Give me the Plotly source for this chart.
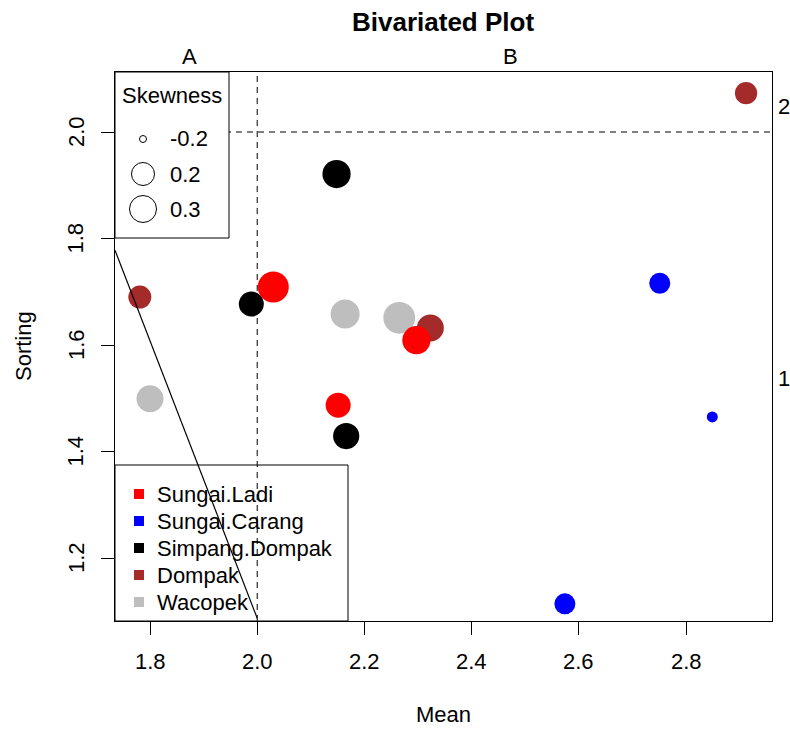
import plotly.graph_objects as go

# ---------------- data ----------------
sites = ["Sungai.Ladi", "Sungai.Carang", "Simpang.Dompak", "Dompak", "Wacopek"]
site_colors = ["#FF0000", "#0000FF", "#000000", "#A52A2A", "#BEBEBE"]

ladi_mean = [2.030, 2.297, 2.151]
ladi_sort = [1.709, 1.609, 1.487]
ladi_skew = [0.40, 0.33, 0.25]

carang_mean = [2.751, 2.849, 2.574]
carang_sort = [1.716, 1.465, 1.114]
carang_skew = [0.15, -0.10, 0.15]

simpang_mean = [2.148, 1.989, 2.166]
simpang_sort = [1.921, 1.677, 1.429]
simpang_skew = [0.33, 0.25, 0.28]

dompak_mean = [2.912, 1.781, 2.323]
dompak_sort = [2.073, 1.690, 1.632]
dompak_skew = [0.18, 0.20, 0.30]

wacopek_mean = [1.800, 2.164, 2.265]
wacopek_sort = [1.499, 1.658, 1.651]
wacopek_skew = [0.30, 0.35, 0.42]

skew_legend_vals = [-0.2, 0.2, 0.3]
x_ticks = [1.8, 2.0, 2.2, 2.4, 2.6, 2.8]
y_ticks = [1.2, 1.4, 1.6, 1.8, 2.0]

# ---------------- layout constants (pixel coords) ----------------
W, H = 790, 729
PL, PR, PT, PB = 115, 772, 72, 621
XR = [1.7347, 2.9604]
YR = [1.0817, 2.1127]
FONT = "Liberation Sans, Arial, Helvetica, sans-serif"
FS = 22


def size_of(s):
    return 15 + 40 * s


def px(x):
    return (x - PL) / (PR - PL)


def py(y):
    return (PB - y) / (PB - PT)


series = [
    ("Wacopek", wacopek_mean, wacopek_sort, wacopek_skew),
    ("Dompak", dompak_mean, dompak_sort, dompak_skew),
    ("Simpang.Dompak", simpang_mean, simpang_sort, simpang_skew),
    ("Sungai.Carang", carang_mean, carang_sort, carang_skew),
    ("Sungai.Ladi", ladi_mean, ladi_sort, ladi_skew),
]

fig = go.Figure()
for name, xs, ys, sk in series:
    col = site_colors[sites.index(name)]
    fig.add_trace(go.Scatter(
        x=xs, y=ys, mode="markers", name=name, showlegend=False, hoverinfo="skip",
        marker=dict(color=col, size=[size_of(s) for s in sk], line=dict(width=0), opacity=1),
    ))

shapes = []
# bottom legend box
shapes.append(dict(type="rect", xref="paper", yref="paper", x0=px(115), x1=px(348), y0=py(621), y1=py(465),
                   line=dict(color="black", width=1), fillcolor="white", layer="above"))
for i, (s, c) in enumerate(zip(sites, site_colors)):
    cy = 494 + 27 * i
    shapes.append(dict(type="rect", xref="paper", yref="paper", x0=px(134), x1=px(144), y0=py(cy + 5), y1=py(cy - 5),
                       line=dict(width=0), fillcolor=c, layer="above"))

# reference lines
shapes.append(dict(type="line", xref="x", yref="y", x0=2.0, x1=2.0, y0=YR[0], y1=YR[1],
                   line=dict(color="black", width=1, dash="6px,5px"), layer="above"))
shapes.append(dict(type="line", xref="x", yref="y", x0=XR[0], x1=XR[1], y0=2.0, y1=2.0,
                   line=dict(color="black", width=1, dash="6px,5px"), layer="above"))
shapes.append(dict(type="line", xref="x", yref="y", x0=XR[0], x1=2.0, y0=1.778, y1=1.087,
                   line=dict(color="black", width=1.2), layer="above"))

# skewness legend box
shapes.append(dict(type="rect", xref="paper", yref="paper", x0=px(115), x1=px(229), y0=py(238), y1=py(72),
                   line=dict(color="black", width=1), fillcolor="white", layer="above"))
for i, s in enumerate(skew_legend_vals):
    cy = [139, 174, 209][i]
    r = size_of(s) / 2
    shapes.append(dict(type="circle", xref="paper", yref="paper", x0=px(143 - r), x1=px(143 + r),
                       y0=py(cy + r), y1=py(cy - r), line=dict(color="black", width=1), fillcolor="rgba(0,0,0,0)",
                       layer="above"))

ann = []


def text(x, y, t, anchor="center", size=FS, angle=0, bold=False):
    ann.append(dict(xref="paper", yref="paper", x=px(x), y=py(y), text=("<b>%s</b>" % t) if bold else t,
                    showarrow=False, xanchor=anchor, yanchor="middle", textangle=angle,
                    font=dict(family=FONT, size=size, color="black")))


text(443, 22, "Bivariated Plot", size=26, bold=True)
text(443, 715, "Mean")
text(23, 346, "Sorting", angle=-90)
text(189, 57, "A")
text(510, 57, "B")
text(784, 106, "2")
text(784, 378, "1")
text(172, 95, "Skewness")
for i, s in enumerate(skew_legend_vals):
    text(168, [139, 174, 209][i], "%g" % s, anchor="left")
for i, s in enumerate(sites):
    text(155, 494 + 27 * i, s, anchor="left")

# tick labels (R-style positions)
for v in x_ticks:
    ann.append(dict(xref="x", yref="paper", x=v, y=py(661), text="%.1f" % v, showarrow=False,
                    xanchor="center", yanchor="middle", font=dict(family=FONT, size=FS, color="black")))
for v in y_ticks:
    ann.append(dict(xref="paper", yref="y", x=px(76), y=v, text="%.1f" % v, showarrow=False, textangle=-90,
                    xanchor="center", yanchor="middle", font=dict(family=FONT, size=FS, color="black")))

fig.update_layout(
    width=W, height=H,
    margin=dict(l=PL, r=W - PR, t=PT, b=H - PB, pad=0),
    paper_bgcolor="white", plot_bgcolor="white",
    showlegend=False, hovermode=False,
    shapes=shapes, annotations=ann,
    font=dict(family=FONT, size=FS, color="black"),
)
fig.update_xaxes(range=XR, tickvals=x_ticks, showticklabels=False,
                 showgrid=False, zeroline=False, showline=True, mirror=True, linecolor="black", linewidth=1,
                 ticks="outside", ticklen=13, tickcolor="black", tickwidth=1)
fig.update_yaxes(range=YR, tickvals=y_ticks, showticklabels=False,
                 showgrid=False, zeroline=False, showline=True, mirror=True, linecolor="black", linewidth=1,
                 ticks="outside", ticklen=13, tickcolor="black", tickwidth=1)

fig.write_html("out.html", config={"displayModeBar": False},
               post_script="document.body.style.margin='0px';document.body.style.overflow='hidden';")
